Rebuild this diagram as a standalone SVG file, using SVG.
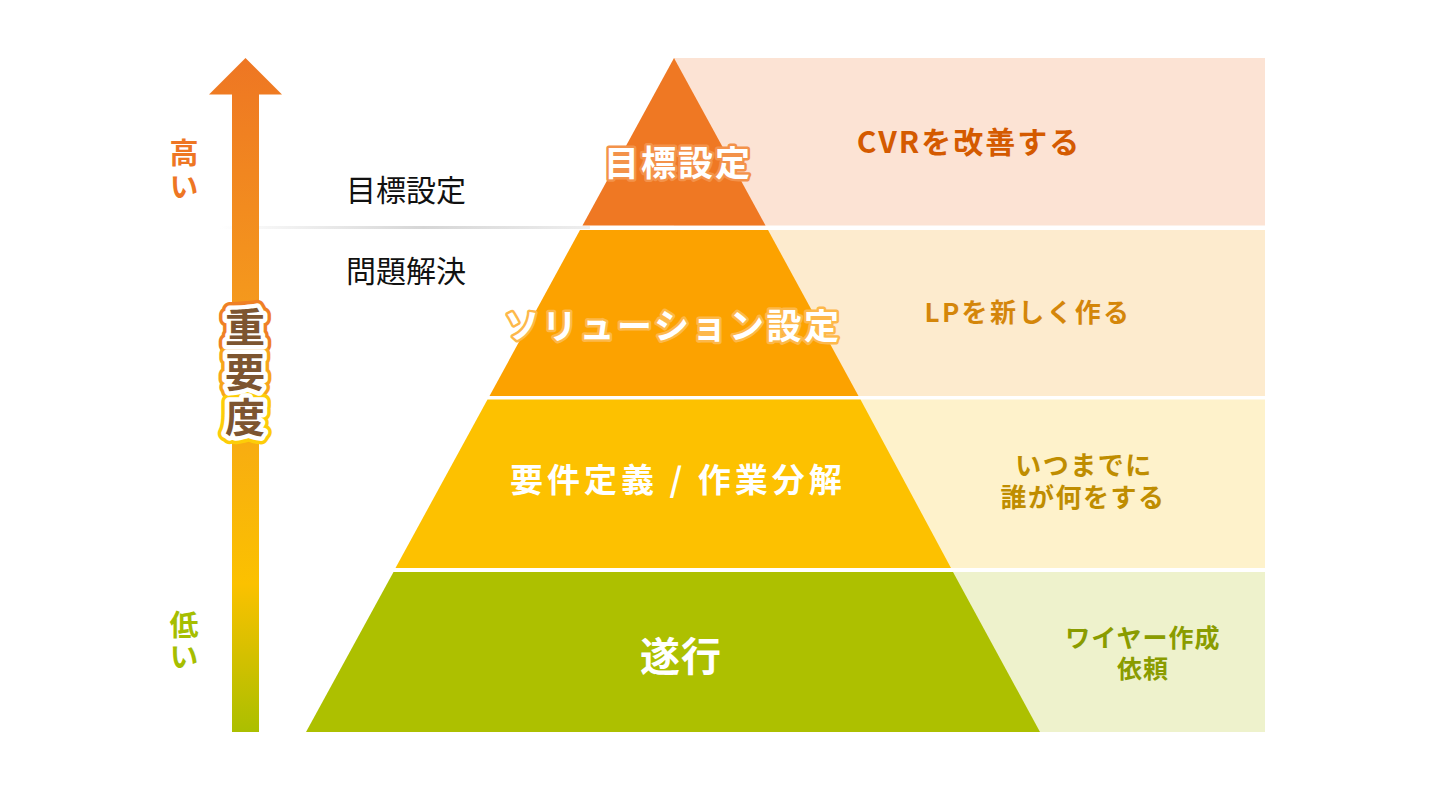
<svg xmlns="http://www.w3.org/2000/svg" width="1440" height="791" viewBox="0 0 1440 791">
  <defs>
    <linearGradient id="arrowGrad" gradientUnits="userSpaceOnUse" x1="0" y1="58" x2="0" y2="732">
      <stop offset="0" stop-color="#EE7623"/>
      <stop offset="0.45" stop-color="#F6A11B"/>
      <stop offset="0.78" stop-color="#FBC100"/>
      <stop offset="1" stop-color="#ABBF00"/>
    </linearGradient>
    <linearGradient id="sepGrad" x1="0" y1="0" x2="1" y2="0">
      <stop offset="0" stop-color="#FFFFFF"/>
      <stop offset="0.55" stop-color="#D6D6D6"/>
      <stop offset="1" stop-color="#EEEEEE"/>
    </linearGradient>
  </defs>
  <style>
    .jp { font-family: "Noto Sans CJK JP", "Noto Sans", sans-serif; }
    .b { font-weight: 700; }
    .pyr { fill: #FFFFFF; font-weight: 700; text-anchor: middle; }
    .ctr { text-anchor: middle; }
    .vert { writing-mode: vertical-rl; text-orientation: upright; }
    .halo { stroke-width: 16; stroke-linejoin: round; }
  </style>
  <rect width="1440" height="791" fill="#FFFFFF"/>

  <!-- right background bands -->
  <g id="bands">
    <rect x="674" y="58" width="591" height="167.5" fill="#FCE3D4"/>
    <rect x="674" y="230" width="591" height="166" fill="#FDEBCE"/>
    <rect x="674" y="399.5" width="591" height="168.5" fill="#FEF2CB"/>
    <rect x="674" y="572" width="591" height="160" fill="#EEF2CC"/>
  </g>

  <!-- separator -->
  <rect id="separator" x="220" y="226" width="370" height="3" fill="url(#sepGrad)"/>

  <!-- pyramid -->
  <g id="level1">
    <polygon points="674,58 765.5,225.5 582.5,225.5" fill="#EF7823"/>
    <text class="jp pyr" x="678" y="176" font-size="35" letter-spacing="2" stroke="#F3924A" stroke-width="5" paint-order="stroke" stroke-linejoin="round">目標設定</text>
  </g>
  <g id="level2">
    <polygon points="580,230 768,230 858.5,396 489.5,396" fill="#FCA200"/>
    <text class="jp pyr" x="673" y="339" font-size="35" letter-spacing="2.5" stroke="#FDB84A" stroke-width="5" paint-order="stroke" stroke-linejoin="round">ソリューション設定</text>
  </g>
  <g id="level3">
    <polygon points="487.5,399.5 860.5,399.5 951,568 395.5,568" fill="#FDC100"/>
    <text class="jp pyr" x="678" y="492" font-size="33" letter-spacing="4" xml:space="preserve">要件定義 / 作業分解</text>
  </g>
  <g id="level4">
    <polygon points="393.5,572 953,572 1040,732 306,732" fill="#ADC000"/>
    <text class="jp pyr" x="681" y="671" font-size="40" letter-spacing="1">遂行</text>
  </g>

  <!-- right texts -->
  <g id="desc1"><text class="jp b ctr" x="969" y="153" font-size="30" letter-spacing="2" fill="#D45A00">CVRを改善する</text></g>
  <g id="desc2"><text class="jp b ctr" x="1028" y="322" font-size="26" letter-spacing="2.3" fill="#D4860A">LPを新しく作る</text></g>
  <g id="desc3">
    <text class="jp b ctr" x="1084" y="475" font-size="26" letter-spacing="1.5" fill="#BF8D00">いつまでに</text>
    <text class="jp b ctr" x="1083" y="507" font-size="26" letter-spacing="1.5" fill="#BF8D00">誰が何をする</text>
  </g>
  <g id="desc4">
    <text class="jp b ctr" x="1143" y="647" font-size="25" letter-spacing="1" fill="#8A9C00">ワイヤー作成</text>
    <text class="jp b ctr" x="1143" y="678" font-size="25" letter-spacing="1" fill="#8A9C00">依頼</text>
  </g>

  <!-- left labels -->
  <g id="leftLabels">
    <text class="jp" x="346" y="201" font-size="30" fill="#111111">目標設定</text>
    <text class="jp" x="346" y="282" font-size="30" fill="#111111">問題解決</text>
  </g>

  <!-- importance arrow -->
  <g id="arrow">
    <polygon points="245.5,58 282,94.5 259,94.5 259,732 232,732 232,94.5 209,94.5" fill="url(#arrowGrad)"/>
  </g>
  <g id="high">
    <text class="jp b vert" x="184" y="138" font-size="29" letter-spacing="5" fill="#EE7623">高い</text>
  </g>
  <g id="low">
    <text class="jp b vert" x="184" y="610" font-size="29" letter-spacing="3" fill="#A6BE00">低い</text>
  </g>
  <g id="importance" class="jp b" font-size="40">
    <text class="vert halo" x="245" y="307" fill="#EF8025" stroke="#EF8025">重</text>
    <text class="vert halo" x="245" y="352" fill="#F7A51B" stroke="#F7A51B">要</text>
    <text class="vert halo" x="245" y="397" fill="#FDCD08" stroke="#FDCD08">度</text>
    <text class="vert" x="245" y="307" letter-spacing="5" stroke="#FFFFFF" stroke-width="9" stroke-linejoin="round" fill="#FFFFFF">重要度</text>
    <text class="vert" x="245" y="307" letter-spacing="5" fill="#7D5530">重要度</text>
  </g>
</svg>
